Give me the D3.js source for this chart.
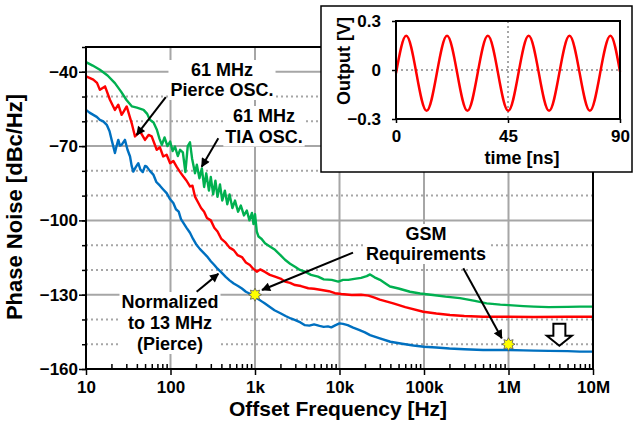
<!DOCTYPE html>
<html>
<head>
<meta charset="utf-8">
<script src="https://cdn.jsdelivr.net/npm/d3@7"></script>
<style>
  body { margin: 0; background: #fff; }
  svg { display: block; }
  text { font-family: Arial, "Liberation Sans", sans-serif; font-weight: bold; fill: #000; }
</style>
</head>
<body>
<svg width="635" height="431"></svg>
<script>
// ---- data ----
const freqTicks = [10, 100, 1e3, 1e4, 1e5, 1e6, 1e7];
const freqLabels = ["10", "100", "1k", "10k", "100k", "1M", "10M"];
const dbTicks = [-160, -130, -100, -70, -40];

// 61 MHz TIA oscillator [Hz, dBc/Hz]
const tiaOsc = [[10,-36.1],[12,-37.5],[14.6,-39.2],[18,-41.5],[22,-44.6],[26,-48],[30,-51.3],[35,-54],[40,-54.5],[48,-55.4],[53,-57],[57,-59.4],[63,-60.5],[69,-63.4],[74,-67],[79,-69.5],[85,-66.5],[92,-70],[99,-68.2],[106,-72],[113,-70.2],[122,-74],[130,-71.5],[140,-72.5],[150,-80.5],[160,-70],[170,-68.5],[180,-75],[195,-81],[205,-77.5],[220,-83],[235,-79],[250,-86.5],[265,-81],[285,-88],[300,-82.5],[320,-89.5],[340,-84],[360,-90.5],[385,-85.5],[410,-92],[440,-88],[470,-93.5],[500,-89.5],[540,-95],[580,-92],[630,-96.5],[680,-94],[740,-98],[800,-96],[860,-100],[920,-97],[960,-101.5],[1000,-97.5],[1050,-104.5],[1100,-106.5],[1200,-107.5],[1313,-109.2],[1500,-110.5],[1725,-111.9],[2000,-114],[2265,-115.9],[2600,-117.5],[2975,-118.7],[3400,-120],[3905,-120.7],[4600,-122],[5567,-122.7],[6500,-123.8],[8086,-124],[9680,-124.7],[11000,-124],[12710,-124],[15000,-123.6],[18000,-123.2],[21000,-122.5],[23000,-121.8],[26000,-123],[30150,-124],[35000,-125.5],[39590,-126.7],[50000,-127.5],[68300,-128.8],[90000,-129.5],[127800,-130.1],[180000,-130.8],[266700,-131.4],[400000,-132.5],[552000,-133.5],[800000,-134],[1.01e6,-134.2],[1.5e6,-134.6],[2e6,-134.8],[3e6,-135],[5e6,-134.9],[7e6,-134.8],[1e7,-134.8]];

// 61 MHz Pierce oscillator
const pierceOsc = [[10,-41.9],[11,-42.5],[12.2,-43.2],[13.5,-44.5],[14.6,-47.3],[16.8,-45.9],[19.2,-51.3],[22,-55.4],[24.1,-53.3],[26.4,-57.4],[28,-56],[30.3,-54],[34.7,-60.7],[38,-66.1],[43.6,-64.1],[49.9,-67.5],[55,-65.5],[59.9,-66.1],[68.7,-71.5],[75,-70.5],[82,-74.2],[90,-73.5],[99,-76.9],[108,-76],[118,-78.3],[130,-80.5],[142,-82.3],[155,-84],[170,-86.3],[182,-86],[195,-90.4],[210,-92.5],[230,-95],[250,-96.5],[270,-99],[300,-100],[330,-103],[360,-104.5],[400,-107.5],[450,-109],[500,-111],[560,-112],[620,-114],[700,-114.8],[780,-117],[870,-118],[950,-119.5],[1050,-120.7],[1150,-119.8],[1313,-120.8],[1500,-122],[1725,-122.7],[2000,-123.5],[2265,-124.7],[2600,-125.2],[2975,-126.1],[3500,-126.5],[4273,-127.4],[5000,-127.6],[6157,-128.1],[7500,-128.6],[8845,-129.4],[10500,-129.7],[13950,-130.1],[18000,-130],[22000,-130.4],[26000,-131.2],[30000,-132],[43300,-133.5],[60000,-135],[98000,-136.9],[140000,-137.6],[203000,-138.2],[300000,-138.6],[503000,-138.9],[1e6,-138.9],[2e6,-139],[5e6,-138.9],[1e7,-138.9]];

// normalized to 13 MHz (Pierce)
const normalized = [[10,-55.4],[11,-56.5],[12.2,-57.4],[13.4,-58.2],[14.6,-59.4],[16,-60],[17.6,-61.4],[19,-64],[20.1,-67.5],[21,-70],[22,-72.8],[23,-70],[24.1,-67.5],[25.2,-69.8],[26.4,-69.5],[27.6,-68.5],[28.9,-67.5],[31,-71.5],[33.2,-74.2],[34.7,-78],[36.3,-80.3],[38.8,-78.5],[41.6,-76.9],[44,-79.5],[47,-80.5],[50,-78],[52.3,-78.3],[57,-80],[62.6,-81.5],[68,-84.5],[75,-86],[82,-87.5],[90,-89],[99,-91.5],[108,-93],[116,-95.5],[125,-96.5],[133,-99.5],[142,-101],[155,-103],[170,-105],[185,-107.5],[200,-109.5],[222,-111.5],[245,-113],[270,-114.5],[300,-116.5],[330,-118],[360,-119.5],[400,-121],[450,-122.8],[500,-124.2],[560,-125.5],[630,-126.5],[700,-127.5],[780,-128.8],[870,-129.6],[950,-130.3],[1000,-130.8],[1100,-131.8],[1200,-132.7],[1300,-133.5],[1500,-135],[1700,-136.3],[2000,-137.5],[2300,-138.6],[2650,-139.6],[3000,-140.3],[3450,-141.2],[3900,-142.3],[4400,-142.5],[5000,-142],[5800,-142.6],[6500,-143],[7300,-142.8],[8000,-143.2],[9000,-142.3],[10000,-141.6],[11000,-141.8],[12500,-142.3],[14500,-143.3],[17000,-144.2],[20000,-145.2],[23000,-146.3],[30000,-147.6],[40000,-149],[55000,-149.8],[75000,-150.5],[100000,-151],[140000,-151.3],[200000,-151.7],[300000,-152],[500000,-152.3],[700000,-152.3],[1e6,-152.3],[1.5e6,-152.5],[2e6,-152.6],[3e6,-152.7],[5e6,-152.8],[7e6,-153],[1e7,-153]];

// GSM requirement points
const gsmSpec = [[1e3,-130],[1e6,-150]];

// inset: oscillator output waveform [ns, V]
const timeTicks = [0, 45, 90];
const voltTicks = [-0.3, 0, 0.3];
const waveform = [[0,-0.02],[4.1,0.21],[8.2,-0.02],[12.3,-0.25],[16.4,-0.02],[20.5,0.21],[24.6,-0.02],[28.7,-0.25],[32.8,-0.02],[36.9,0.21],[41,-0.02],[45.1,-0.25],[49.2,-0.02],[53.3,0.21],[57.4,-0.02],[61.5,-0.25],[65.6,-0.02],[69.7,0.21],[73.8,-0.02],[77.9,-0.25],[82,-0.02],[86.1,0.21],[90,-0.01]];

// ---- layout ----
const svg = d3.select("svg");
const plot = { left: 86, right: 593, top: 47, bottom: 369 };
const grey = "#a6a6a6";

const x = d3.scaleLog().domain([10, 1e7]).range([plot.left, plot.right]);
const y = d3.scaleLinear().domain([-160, -30]).range([plot.bottom, plot.top]);

svg.append("defs").append("marker")
    .attr("id", "head")
    .attr("viewBox", "0 0 10 10")
    .attr("refX", 9).attr("refY", 5)
    .attr("markerUnits", "userSpaceOnUse")
    .attr("markerWidth", 10).attr("markerHeight", 9)
    .attr("orient", "auto")
    .append("path").attr("d", "M0,0L10,5L0,10z").attr("fill", "#000");

const gGrid = svg.append("g");
const gBg = svg.append("g");
const gLines = svg.append("g");
const gNotes = svg.append("g");

// grid
const minorDb = d3.range(-150, -30, 10).filter(d => !dbTicks.includes(d));
gGrid.selectAll(".hminor").data(minorDb).enter().append("line")
    .attr("x1", plot.left).attr("x2", plot.right)
    .attr("y1", d => y(d)).attr("y2", d => y(d))
    .attr("stroke", grey).attr("stroke-width", 2).attr("stroke-dasharray", "2,3");
gGrid.selectAll(".hmajor").data(dbTicks.slice(1)).enter().append("line")
    .attr("x1", plot.left).attr("x2", plot.right)
    .attr("y1", d => y(d)).attr("y2", d => y(d))
    .attr("stroke", grey).attr("stroke-width", 2);
gGrid.selectAll(".vmajor").data(freqTicks.slice(1, -1)).enter().append("line")
    .attr("x1", d => x(d)).attr("x2", d => x(d))
    .attr("y1", plot.top).attr("y2", plot.bottom)
    .attr("stroke", grey).attr("stroke-width", 2);

// axes
function styleAxis(g) {
    g.select(".domain").remove();
    g.selectAll("line").attr("stroke", "#000").attr("stroke-width", 1.5);
    g.selectAll("text").style("font-size", "17px");
}
function noText(g) {
    g.selectAll("text").remove();
}
svg.append("g")
    .attr("transform", `translate(${plot.left},0)`)
    .call(d3.axisLeft(y).tickValues(d3.range(-160, -29, 10)).tickSize(4))
    .call(styleAxis).call(noText);
svg.append("g")
    .attr("transform", `translate(${plot.left},0)`)
    .call(d3.axisLeft(y).tickValues(dbTicks).tickSize(7).tickPadding(1))
    .call(styleAxis);

const minorFreq = [];
for (let dec = 10; dec < 1e7; dec *= 10) for (let k = 2; k < 10; k++) minorFreq.push(dec * k);
svg.append("g")
    .attr("transform", `translate(0,${plot.bottom})`)
    .call(d3.axisBottom(x).tickValues(minorFreq).tickSize(-5))
    .call(styleAxis).call(noText);
svg.append("g")
    .attr("transform", `translate(0,${plot.bottom})`)
    .call(d3.axisBottom(x).tickValues(freqTicks).tickSize(6).tickPadding(6)
        .tickFormat((d, i) => freqLabels[i]))
    .call(styleAxis);

svg.append("rect")
    .attr("x", plot.left).attr("y", plot.top)
    .attr("width", plot.right - plot.left).attr("height", plot.bottom - plot.top)
    .attr("fill", "none").attr("stroke", "#000").attr("stroke-width", 2);

// axis titles
svg.append("text")
    .attr("x", 338).attr("y", 416)
    .attr("text-anchor", "middle")
    .style("font-size", "21px")
    .text("Offset Frequency [Hz]");
svg.append("text")
    .attr("transform", "translate(22,207) rotate(-90)")
    .attr("text-anchor", "middle")
    .style("font-size", "22px")
    .text("Phase Noise [dBc/Hz]");

// curves
const line = d3.line().x(d => x(d[0])).y(d => y(d[1]));
[[tiaOsc, "#00b050"], [pierceOsc, "#ff0000"], [normalized, "#0070c0"]].forEach(([data, color]) => {
    gLines.append("path")
        .datum(data)
        .attr("d", line)
        .attr("fill", "none")
        .attr("stroke", color)
        .attr("stroke-width", 2.4)
        .attr("stroke-linejoin", "round");
});

// annotations
function note(lines, cx, y0, step) {
    const g = gNotes.append("g");
    lines.forEach((t, i) => {
        g.append("text")
            .attr("x", cx).attr("y", y0 + i * step)
            .attr("text-anchor", "middle")
            .style("font-size", "18px")
            .text(t);
    });
    const b = g.node().getBBox();
    gBg.append("rect")
        .attr("x", b.x - 2).attr("y", b.y)
        .attr("width", b.width + 4).attr("height", b.height)
        .attr("fill", "#fff");
}
function arrow(from, to) {
    gNotes.append("line")
        .attr("x1", x(from[0])).attr("y1", y(from[1]))
        .attr("x2", x(to[0])).attr("y2", y(to[1]))
        .attr("stroke", "#000").attr("stroke-width", 2)
        .attr("marker-end", "url(#head)");
}

note(["61 MHz", "Pierce OSC."], 222, 76, 20);
note(["61 MHz", "TIA OSC."], 264, 122, 20.5);
note(["GSM", "Requirements"], 426, 240, 20);
note(["Normalized", "to 13 MHz", "(Pierce)"], 170, 308, 21);

arrow([88, -50.2], [39.8, -65.5]);
arrow([368, -66.8], [234, -78.3]);
arrow([14450, -113], [1211, -128.1]);
arrow([291700, -119.3], [832000, -147.6]);
arrow([204, -128.8], [368, -121.6]);

// GSM spec markers
const star = d3.lineRadial()
    .angle((d, i) => i * Math.PI / 8)
    .radius((d, i) => i % 2 ? 4 : 6.5)
    .curve(d3.curveLinearClosed);
gNotes.selectAll(".spec").data(gsmSpec).enter().append("path")
    .attr("transform", d => `translate(${x(d[0])},${y(d[1])})`)
    .attr("d", star(d3.range(16)))
    .attr("fill", "#ffff00")
    .attr("stroke", "#555")
    .attr("stroke-width", 0.8);

// hollow down arrow near 4 MHz
const ax = x(4e6), ay = y(-150.6);
gNotes.append("path")
    .attr("d", `M${ax},${ay}L${ax - 12.5},${ay - 10}L${ax - 6},${ay - 10}L${ax - 6},${ay - 22}L${ax + 6},${ay - 22}L${ax + 6},${ay - 10}L${ax + 12.5},${ay - 10}Z`)
    .attr("fill", "#fff").attr("stroke", "#000").attr("stroke-width", 2)
    .attr("stroke-linejoin", "miter");

// ---- inset ----
const inset = svg.append("g");
const ip = { left: 396, right: 620, top: 21, bottom: 119 };
inset.append("rect")
    .attr("x", 321).attr("y", 6).attr("width", 311).attr("height", 166)
    .attr("fill", "#fff").attr("stroke", "#000").attr("stroke-width", 1.5);

const ix = d3.scaleLinear().domain([0, 90]).range([ip.left, ip.right]);
const iy = d3.scaleLinear().domain([-0.3, 0.3]).range([ip.bottom, ip.top]);

inset.append("line")
    .attr("x1", ip.left).attr("x2", ip.right).attr("y1", iy(0)).attr("y2", iy(0))
    .attr("stroke", grey).attr("stroke-width", 2).attr("stroke-dasharray", "2,3");
inset.append("line")
    .attr("x1", ix(45)).attr("x2", ix(45)).attr("y1", ip.top).attr("y2", ip.bottom)
    .attr("stroke", grey).attr("stroke-width", 2).attr("stroke-dasharray", "2,3");

inset.append("g")
    .attr("transform", `translate(${ip.left},0)`)
    .call(d3.axisLeft(iy).tickValues(voltTicks).tickSize(4).tickPadding(11)
        .tickFormat(d => d === 0 ? "0" : d3.format(".1f")(d)))
    .call(styleAxis);
inset.append("g")
    .attr("transform", `translate(0,${ip.bottom})`)
    .call(d3.axisBottom(ix).tickValues(timeTicks).tickSize(4).tickPadding(7))
    .call(styleAxis);

inset.append("path")
    .datum(waveform)
    .attr("d", d3.line().x(d => ix(d[0])).y(d => iy(d[1])).curve(d3.curveNatural))
    .attr("fill", "none").attr("stroke", "#ff0000").attr("stroke-width", 2.5);

inset.append("rect")
    .attr("x", ip.left).attr("y", ip.top)
    .attr("width", ip.right - ip.left).attr("height", ip.bottom - ip.top)
    .attr("fill", "none").attr("stroke", "#000").attr("stroke-width", 2);

inset.append("text")
    .attr("x", 522).attr("y", 163.5)
    .attr("text-anchor", "middle")
    .style("font-size", "18px")
    .text("time [ns]");
inset.append("text")
    .attr("transform", "translate(350,61) rotate(-90)")
    .attr("text-anchor", "middle")
    .style("font-size", "18px")
    .text("Output [V]");
</script>
</body>
</html>
